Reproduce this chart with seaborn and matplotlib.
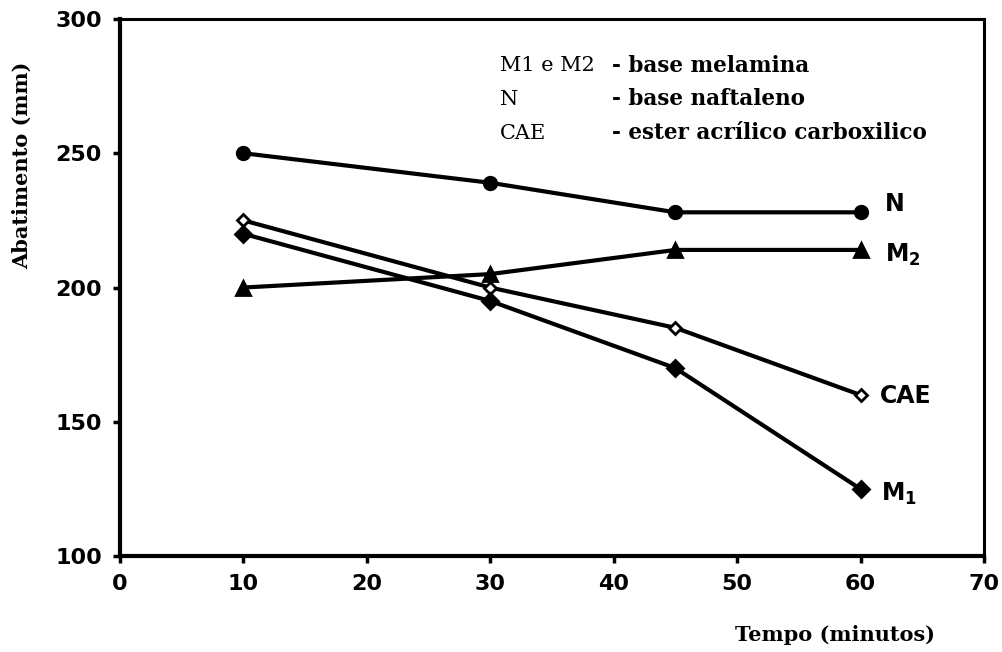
import matplotlib
matplotlib.use("Agg")
import matplotlib.pyplot as plt
import seaborn as sns
import pandas as pd

sns.set_theme(style="white")
plt.rcParams['font.family'] = ['DejaVu Sans']
plt.rcParams.update({"text.color": "black", "xtick.color": "black",
                     "ytick.color": "black", "axes.labelcolor": "black",
                     "xtick.bottom": True, "ytick.left": True})

tempo = [10, 30, 45, 60]
serie_N = [250, 239, 228, 228]
serie_M2 = [200, 205, 214, 214]
serie_CAE = [225, 200, 185, 160]
serie_M1 = [220, 195, 170, 125]
x_ticks = [0, 10, 20, 30, 40, 50, 60, 70]
y_ticks = [100, 150, 200, 250, 300]

fig = plt.figure(figsize=(10.03, 6.52), dpi=100)
ax = fig.add_axes([0.1196, 0.147, 0.8614, 0.824])

styles = [
    (serie_N, "o", "black", 9),
    (serie_M2, "^", "black", 10),
    (serie_CAE, "D", "white", 6),
    (serie_M1, "D", "black", 8),
]
for vals, mk, fc, ms in styles:
    df = pd.DataFrame({"t": tempo, "v": vals})
    sns.lineplot(data=df, x="t", y="v", ax=ax, color="black", linewidth=3,
                 marker=mk, markersize=ms, markerfacecolor=fc,
                 markeredgecolor="black", markeredgewidth=2)

ax.set_xlim(0, 70)
ax.set_ylim(100, 300)
ax.set_xticks(x_ticks)
ax.set_yticks(y_ticks)
ax.set_xticklabels([str(v) for v in x_ticks], fontsize=16, fontweight="bold")
ax.set_yticklabels([str(v) for v in y_ticks], fontsize=16, fontweight="bold")
ax.tick_params(axis="both", which="major", bottom=True, left=True, top=False, right=False,
               direction="out", length=5, width=2.5, color="black", labelcolor="black")
ax.tick_params(axis="y", pad=8)
ax.tick_params(axis="x", pad=8)

for side, lw in [("left", 3), ("bottom", 3), ("top", 2.2), ("right", 2.2)]:
    ax.spines[side].set_visible(True)
    ax.spines[side].set_color("black")
    ax.spines[side].set_linewidth(lw)

ax.set_xlabel("")
ax.set_ylabel("")
fig.text(0.022, 0.747, "Abatimento (mm)", rotation=90, va="center", ha="center",
         family="DejaVu Serif", fontweight="bold", fontsize=15, color="black")
fig.text(0.8325, 0.026, "Tempo (minutos)", ha="center", va="center",
         family="DejaVu Serif", fontweight="bold", fontsize=15, color="black")

notes = [("M1 e M2", "- base melamina", 282.5),
         ("N", "- base naftaleno", 270),
         ("CAE", "- ester acrílico carboxilico", 257.5)]
for a, b, y in notes:
    ax.text(30.8, y, a, family="DejaVu Serif", fontsize=15, va="center", ha="left",
            color="black")
    ax.text(39.9, y, b, family="DejaVu Serif", fontsize=15.5, fontweight="bold",
            va="center", ha="left", color="black")

labels = [("N", 62.0, 231), ("M$_\\mathbf{2}$", 62.0, 212), ("CAE", 61.6, 159.5),
          ("M$_\\mathbf{1}$", 61.7, 123)]
for lab, x, y in labels:
    ax.text(x, y, lab, fontsize=17, fontweight="bold", va="center", ha="left",
            color="black")

fig.savefig("out.png", dpi=100, facecolor="white")
